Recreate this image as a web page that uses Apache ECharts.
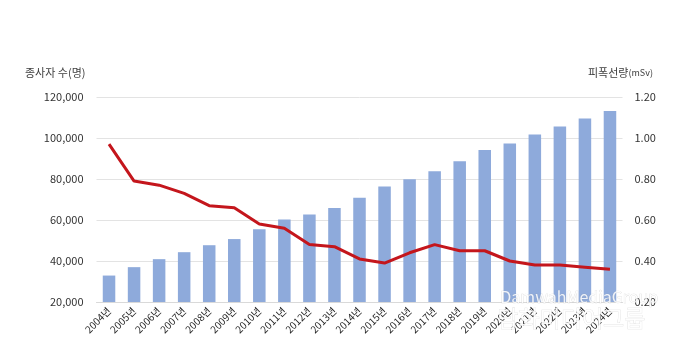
<!DOCTYPE html>
<html><head><meta charset="utf-8">
<script src="https://cdn.jsdelivr.net/npm/echarts@6/dist/echarts.min.js"></script>
<style>html,body{margin:0;padding:0;background:#fff}#c{width:680px;height:357px}</style>
</head><body><div id="c"></div>
<script>
var categories = ['2004년','2005년','2006년','2007년','2008년','2009년','2010년','2011년','2012년','2013년','2014년','2015년','2016년','2017년','2018년','2019년','2020년','2021년','2022년','2023년','2024년'];
var workers = [32900,37000,40900,44300,47700,50700,55500,60200,62700,65800,70800,76300,79900,83800,88700,94100,97300,101700,105600,109500,113200];
var dose = [0.97,0.79,0.77,0.73,0.67,0.66,0.58,0.56,0.48,0.47,0.41,0.39,0.44,0.48,0.45,0.45,0.40,0.38,0.38,0.37,0.36];
var leftTicks = {min:20000, max:120000, interval:20000};
var rightTicks = {min:0.2, max:1.2, interval:0.2};

var font = '"Noto Sans CJK KR", "Noto Sans", sans-serif';
var chart = echarts.init(document.getElementById('c'));
chart.setOption({
  animation:false,
  backgroundColor:'#ffffff',
  grid:{left:96.5, right:57.5, top:97, bottom:55},
  xAxis:{type:'category', data:categories,
    axisLine:{lineStyle:{color:'#d9d9d9'}}, axisTick:{show:false},
    axisLabel:{rotate:45, fontSize:10, color:'#262626', fontFamily:font, margin:7, interval:0}},
  yAxis:[
    {type:'value', min:leftTicks.min, max:leftTicks.max, interval:leftTicks.interval,
      axisLine:{show:false}, axisTick:{show:false},
      splitLine:{lineStyle:{color:'#e3e3e3'}},
      axisLabel:{fontSize:11, color:'#333333', fontFamily:font, margin:13,
        formatter:function(v){return v.toLocaleString('en-US');}}},
    {type:'value', min:rightTicks.min, max:rightTicks.max, interval:rightTicks.interval,
      axisLine:{show:false}, axisTick:{show:false}, splitLine:{show:false},
      axisLabel:{fontSize:11, color:'#333333', fontFamily:font, margin:12,
        formatter:function(v){return v.toFixed(2);}}}
  ],
  series:[
    {type:'bar', data:workers, yAxisIndex:0, barWidth:'50%', itemStyle:{color:'#8eaadb'}},
    {type:'line', data:dose, yAxisIndex:1, symbol:'none', lineStyle:{color:'#c4161c', width:3}, itemStyle:{color:'#c4161c'}, z:5}
  ],
  graphic:[
    {type:'text', left:25, top:67, style:{text:'종사자 수(명)', font:'11px '+font, fill:'#404040'}},
    {type:'text', left:588, top:67, style:{text:'피폭선량{s|(mSv)}', font:'11px '+font, fill:'#404040',
      rich:{s:{fontSize:9, fontFamily:font, fill:'#404040'}}}},
    {type:'text', left:500, top:289, z:100, style:{text:'DamwahMediaGroup', font:'16px '+font, fill:'rgba(255,255,255,0.85)',
      stroke:'rgba(150,150,150,0.35)', lineWidth:0.6,
      shadowColor:'rgba(0,0,0,0.55)', shadowBlur:5, shadowOffsetX:1, shadowOffsetY:1}},
    {type:'text', left:497, top:306, z:100, style:{text:'담화미디어그룹', font:'23px '+font, fill:'rgba(255,255,255,0.9)',
      stroke:'rgba(150,150,150,0.35)', lineWidth:0.6,
      shadowColor:'rgba(0,0,0,0.55)', shadowBlur:6, shadowOffsetX:1, shadowOffsetY:2}}
  ]
});
</script></body></html>
